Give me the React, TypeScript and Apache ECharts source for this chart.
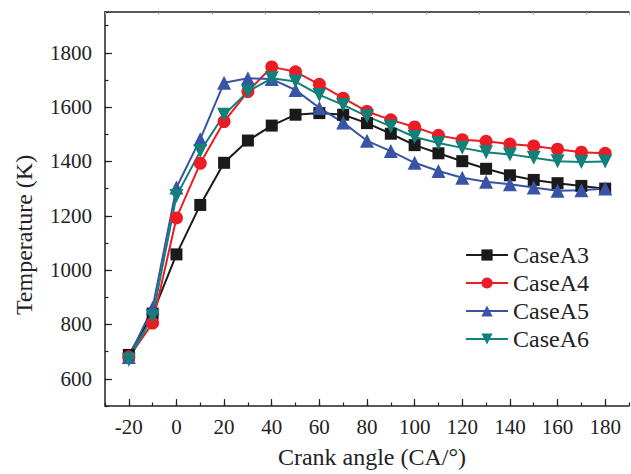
import React, { useEffect, useRef } from "react";
import * as echarts from "echarts";

const crankAngles = [-20, -10, 0, 10, 20, 30, 40, 50, 60, 70, 80, 90, 100, 110, 120, 130, 140, 150, 160, 170, 180];
const caseA3 = [688, 840, 1058, 1240, 1395, 1477, 1532, 1572, 1578, 1572, 1541, 1502, 1460, 1430, 1401, 1373, 1349, 1332, 1320, 1310, 1300];
const caseA4 = [680, 805, 1192, 1393, 1547, 1657, 1748, 1730, 1684, 1633, 1584, 1553, 1527, 1496, 1480, 1474, 1464, 1457, 1445, 1434, 1430];
const caseA5 = [680, 862, 1304, 1482, 1690, 1706, 1703, 1663, 1597, 1543, 1476, 1438, 1395, 1365, 1340, 1325, 1316, 1304, 1292, 1294, 1300];
const caseA6 = [670, 830, 1273, 1438, 1572, 1657, 1706, 1694, 1645, 1608, 1566, 1529, 1490, 1468, 1450, 1434, 1426, 1414, 1401, 1398, 1400];

const xTickLabels = [-20, 0, 20, 40, 60, 80, 100, 120, 140, 160, 180];
const yTickLabels = [600, 800, 1000, 1200, 1400, 1600, 1800];

const seriesNames = ["CaseA3", "CaseA4", "CaseA5", "CaseA6"];
const seriesValues = [caseA3, caseA4, caseA5, caseA6];
const seriesColors = ["#1a1a1a", "#ec1c24", "#3a54a5", "#118079"];
const seriesSymbols = ["rect", "circle", "triangle", "triangle"];
const seriesRotate = [0, 0, 0, 180];
const seriesSizes = [12, 13, 14, 14];

const FONT = "'Liberation Serif', 'Times New Roman', serif";

export default function App() {
  const ref = useRef<HTMLDivElement>(null);
  useEffect(() => {
    if (!ref.current) return;
    const chart = echarts.init(ref.current, undefined, { renderer: "svg" });
    const axisColor = "#222";
    const X_MIN = -30, X_MAX = 190, Y_MIN = 500, Y_MAX = 1950;
    const plain = (v: number) => String(v);
    chart.setOption({
      animation: false,
      backgroundColor: "#fff",
      grid: { left: 105, right: 2, top: 12, bottom: 66 },
      legend: {
        orient: "vertical",
        left: 465,
        top: 243,
        itemWidth: 42,
        itemHeight: 14,
        itemGap: 4,
        padding: 0,
        data: seriesNames,
        textStyle: { fontSize: 24, fontFamily: FONT, color: "#222" },
      },
      xAxis: [
        {
          type: "value",
          min: X_MIN,
          max: X_MAX,
          interval: 10,
          position: "bottom",
          name: "Crank angle (CA/°)",
          nameLocation: "middle",
          nameGap: 39,
          nameTextStyle: { fontSize: 24, fontFamily: FONT, color: "#222", padding: [0, 0, 0, 10] },
          axisLine: { show: true, onZero: false, lineStyle: { color: axisColor, width: 1.5 } },
          axisTick: { show: true, inside: true, length: 7, customValues: xTickLabels, lineStyle: { color: axisColor, width: 1.2 } },
          axisLabel: {
            fontSize: 21,
            fontFamily: FONT,
            color: "#222",
            margin: 10,
            customValues: xTickLabels,
            formatter: plain,
          },
          splitLine: { show: false },
        },
        {
          type: "value",
          min: 0,
          max: 9.8,
          interval: 1,
          position: "top",
          axisLine: { show: true, onZero: false, lineStyle: { color: axisColor, width: 1.5 } },
          axisTick: { show: true, inside: true, length: 2.5, lineStyle: { color: "#999", width: 1 } },
          axisLabel: { show: false },
          splitLine: { show: false },
        },
        {
          type: "value",
          min: X_MIN,
          max: X_MAX,
          interval: 10,
          position: "bottom",
          axisLine: { show: false, onZero: false },
          axisTick: { show: true, inside: true, length: 3.5, lineStyle: { color: axisColor, width: 1.2 } },
          axisLabel: { show: false },
          splitLine: { show: false },
        },
      ],
      yAxis: [
        {
          type: "value",
          min: Y_MIN,
          max: Y_MAX,
          interval: 100,
          position: "left",
          axisLine: { show: true, onZero: false, lineStyle: { color: axisColor, width: 1.5 } },
          axisTick: { show: true, inside: true, length: 7, customValues: yTickLabels, lineStyle: { color: axisColor, width: 1.2 } },
          axisLabel: {
            fontSize: 21,
            fontFamily: FONT,
            color: "#222",
            margin: 13,
            customValues: yTickLabels,
            formatter: plain,
          },
          splitLine: { show: false },
        },
        {
          type: "value",
          min: Y_MIN,
          max: Y_MAX,
          interval: 100,
          position: "left",
          axisLine: { show: false, onZero: false },
          axisTick: { show: true, inside: true, length: 3.5, lineStyle: { color: axisColor, width: 1.2 } },
          axisLabel: { show: false },
          splitLine: { show: false },
        },
      ],
      graphic: [
        {
          type: "text",
          x: 24,
          y: 235,
          rotation: Math.PI / 2,
          style: {
            text: "Temperature (K)",
            font: `24px ${FONT}`,
            fill: "#222",
            textAlign: "center",
            textVerticalAlign: "middle",
          },
        },
      ],
      series: seriesNames.map((name, i) => ({
        name,
        type: "line",
        xAxisIndex: 0,
        yAxisIndex: 0,
        data: crankAngles.map((x, j) => [x, seriesValues[i][j]]),
        symbol: seriesSymbols[i],
        symbolSize: seriesSizes[i],
        symbolRotate: seriesRotate[i],
        showAllSymbol: true,
        lineStyle: { color: seriesColors[i], width: 2 },
        itemStyle: { color: seriesColors[i], borderWidth: 0 },
      })),
    });
    return () => chart.dispose();
  }, []);
  return (
    <div
      ref={ref}
      style={{ position: "absolute", left: 0, top: 0, width: 631, height: 474 }}
    />
  );
}
